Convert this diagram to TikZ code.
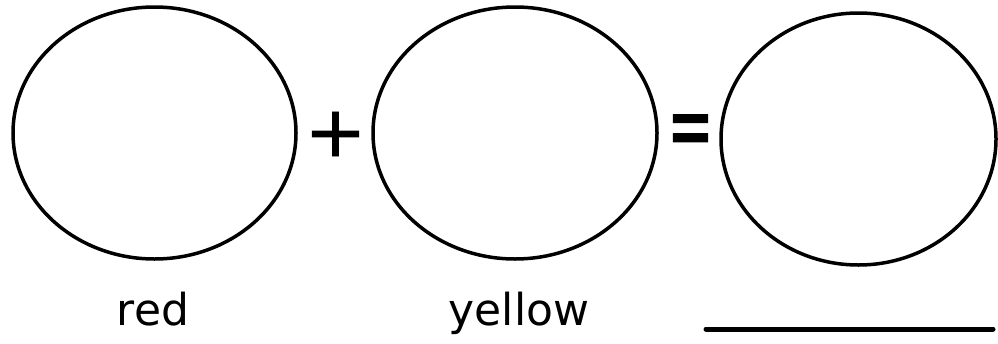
\documentclass[tikz,border=0pt]{standalone}
\usepackage{fontspec}
\setmainfont{DejaVu Sans}
\newfontfamily\symfnt[FakeBold=1.2]{DejaVu Sans}
\usetikzlibrary{shapes.geometric}
\begin{document}
\begin{tikzpicture}[x=1pt,y=-1pt,
  blob/.style={draw=black,line width=3.5pt,ellipse,inner sep=0pt},
  lab/.style={font=\fontsize{44}{48}\selectfont,anchor=base,inner sep=0pt},
  sym/.style={font=\symfnt\fontsize{74}{74}\selectfont,inner sep=0pt},
  rule/.style={line width=5pt,line cap=round}]
\useasboundingbox (0,0) rectangle (998,343);
\node[blob,minimum width=283pt,minimum height=252pt] (e1) at (154.5,133) {};
\node[blob,minimum width=284pt,minimum height=252pt] (e2) at (515,133) {};
\node[blob,minimum width=275pt,minimum height=252pt] (e3) at (858.5,139) {};
\node[sym] (plus) at (335.5,134) {\scalebox{1}[0.95]{+}};
\node[sym] (eq) at (690.5,136.5) {\scalebox{0.75}[1.3]{=}};
\node[lab] (red) at (153,325) {red};
\node[lab] (yellow) at (519,325) {yellow};
\coordinate (l1) at (706,329);
\coordinate (l2) at (993,329);
\draw[rule] (l1) -- (l2);
\end{tikzpicture}
\end{document}
